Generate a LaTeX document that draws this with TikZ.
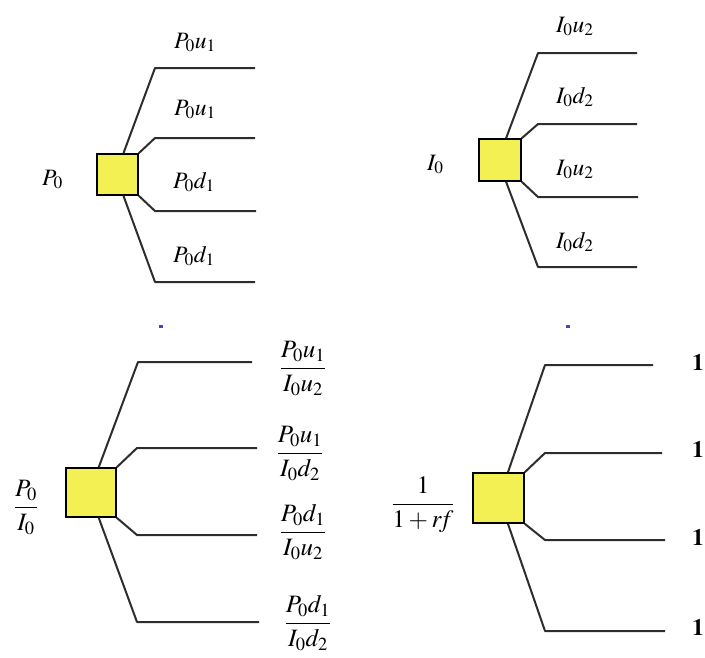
\documentclass[tikz,border=0pt]{standalone}
\usepackage{mathptmx}
\usetikzlibrary{calc}
\definecolor{boxfill}{RGB}{242,240,82}
\definecolor{branchgray}{RGB}{45,45,45}

\begin{document}
\begin{tikzpicture}[x=1pt, y=-1pt,
    box/.style = {rectangle, draw=black, fill=boxfill, line width=1.6pt, inner sep=0pt},
    branch/.style = {draw=branchgray, line width=2pt, line join=round},
    lbl/.style = {inner sep=0pt, anchor=base west, font=\fontsize{23.5}{27}\selectfont},
    fraclbl/.style = {inner sep=0pt, anchor=base, font=\fontsize{25}{29}\selectfont},
    speck/.style = {rectangle, fill=blue!45!gray, inner sep=0pt, minimum width=4pt, minimum height=3pt}
]
\useasboundingbox (0,0) rectangle (705,657);

% Tree of P_0
\node (B1) [box, minimum width=41pt, minimum height=41pt] at (117.5,174.5) {};
\node (R1) [lbl] at (42,185) {$P_0$};
\coordinate (K11) at (155,68);  \coordinate (E11) at (255,68);
\coordinate (K12) at (155,138); \coordinate (E12) at (255,138);
\coordinate (K13) at (155,211); \coordinate (E13) at (256,211);
\coordinate (K14) at (155,282); \coordinate (E14) at (255,282);
\node (L11) [lbl] at (174,48)  {$P_0u_1$};
\node (L12) [lbl] at (174,115) {$P_0u_1$};
\node (L13) [lbl] at (173,188) {$P_0d_1$};
\node (L14) [lbl] at (173,262) {$P_0d_1$};

% Tree of I_0
\node (B2) [box, minimum width=42pt, minimum height=42pt] at (500,160) {};
\node (R2) [lbl] at (427,170) {$I_0$};
\coordinate (K21) at (538,53);  \coordinate (E21) at (637,53);
\coordinate (K22) at (538,124); \coordinate (E22) at (637,124);
\coordinate (K23) at (538,197); \coordinate (E23) at (638,197);
\coordinate (K24) at (538,267); \coordinate (E24) at (637,267);
\node (L21) [lbl] at (556,32)  {$I_0u_2$};
\node (L22) [lbl] at (556,103) {$I_0d_2$};
\node (L23) [lbl] at (556,175) {$I_0u_2$};
\node (L24) [lbl] at (556,248) {$I_0d_2$};

% Tree of the ratio
\node (B3) [box, minimum width=50pt, minimum height=49pt] at (91,492.5) {};
\node (R3) [fraclbl] at (26,513.5) {$\displaystyle\frac{P_0}{I_0}$};
\coordinate (K31) at (138,362); \coordinate (E31) at (252,362);
\coordinate (K32) at (137,448); \coordinate (E32) at (257,448);
\coordinate (K33) at (137,535); \coordinate (E33) at (257,535);
\coordinate (K34) at (137,622); \coordinate (E34) at (259,622);
\node (L31) [fraclbl] at (303,374.5) {$\displaystyle\frac{P_0u_1}{I_0u_2}$};
\node (L32) [fraclbl] at (300,459.5) {$\displaystyle\frac{P_0u_1}{I_0d_2}$};
\node (L33) [fraclbl] at (303,538.5) {$\displaystyle\frac{P_0d_1}{I_0u_2}$};
\node (L34) [fraclbl] at (308,629.5) {$\displaystyle\frac{P_0d_1}{I_0d_2}$};

% Tree of the bond
\node (B4) [box, minimum width=51pt, minimum height=50pt] at (498.5,498) {};
\node (R4) [fraclbl] at (423,510.5) {$\displaystyle\frac{1}{1+r\!f}$};
\coordinate (K41) at (545,365); \coordinate (E41) at (653,365);
\coordinate (K42) at (545,453); \coordinate (E42) at (662,453);
\coordinate (K43) at (545,540); \coordinate (E43) at (665,540);
\coordinate (K44) at (545,631); \coordinate (E44) at (665,631);
\node (L41) [lbl] at (692,370) {$\mathbf{1}$};
\node (L42) [lbl] at (692,457) {$\mathbf{1}$};
\node (L43) [lbl] at (692,545) {$\mathbf{1}$};
\node (L44) [lbl] at (692,635) {$\mathbf{1}$};

% Specks
\node (S1) [speck] at (160.5,326.5) {};
\node (S2) [speck] at (567.5,326.5) {};

% Branches
\draw [branch] ($(B1.north west)!0.64!(B1.north east)$) -- (K11) -- (E11);
\draw [branch] (B1.north east) -- (K12) -- (E12);
\draw [branch] (B1.south east) -- (K13) -- (E13);
\draw [branch] ($(B1.south west)!0.64!(B1.south east)$) -- (K14) -- (E14);

\draw [branch] ($(B2.north west)!0.64!(B2.north east)$) -- (K21) -- (E21);
\draw [branch] (B2.north east) -- (K22) -- (E22);
\draw [branch] (B2.south east) -- (K23) -- (E23);
\draw [branch] ($(B2.south west)!0.64!(B2.south east)$) -- (K24) -- (E24);

\draw [branch] ($(B3.north west)!0.65!(B3.north east)$) -- (K31) -- (E31);
\draw [branch] (B3.north east) -- (K32) -- (E32);
\draw [branch] (B3.south east) -- (K33) -- (E33);
\draw [branch] ($(B3.south west)!0.65!(B3.south east)$) -- (K34) -- (E34);

\draw [branch] ($(B4.north west)!0.68!(B4.north east)$) -- (K41) -- (E41);
\draw [branch] (B4.north east) -- (K42) -- (E42);
\draw [branch] (B4.south east) -- (K43) -- (E43);
\draw [branch] ($(B4.south west)!0.68!(B4.south east)$) -- (K44) -- (E44);

\end{tikzpicture}
\end{document}
